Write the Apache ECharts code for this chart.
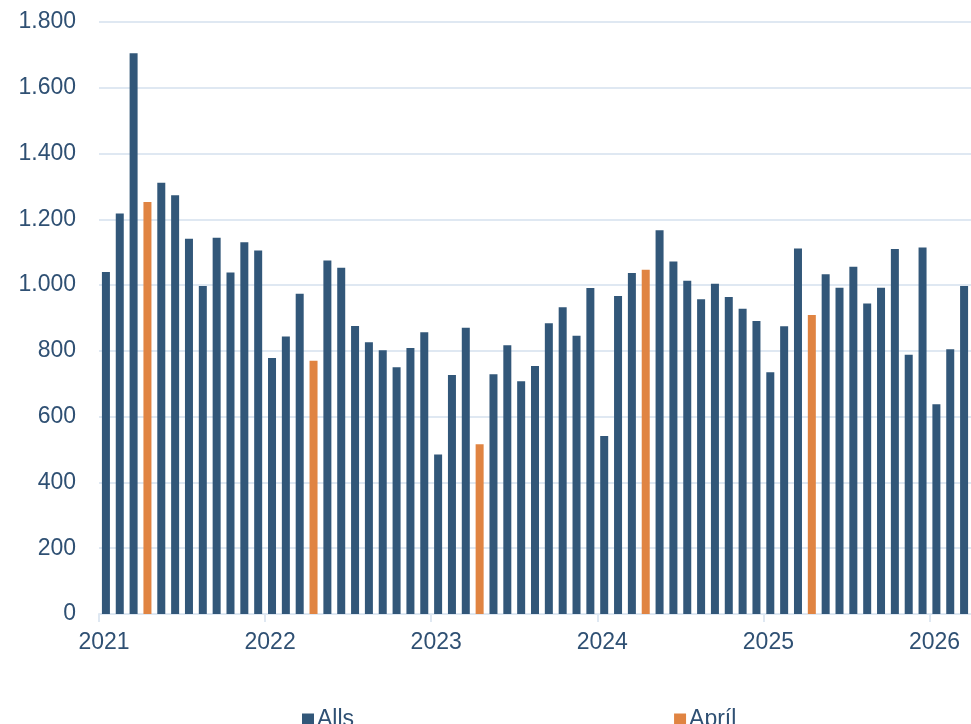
<!DOCTYPE html>
<html>
<head>
<meta charset="utf-8">
<script src="https://cdn.jsdelivr.net/npm/echarts@6/dist/echarts.min.js"></script>
<style>
  html, body { margin: 0; padding: 0; background: #ffffff; }
  #chart { width: 971px; height: 724px; }
</style>
</head>
<body>
<div id="chart"></div>
<script>
// monthly values, Jan 2021 - Mar 2026
var months = [];
var years = ['2021', '2022', '2023', '2024', '2025', '2026'];
var values = [
  1040, 1218, 1705, 1253, 1311, 1273, 1141, 997, 1144, 1038, 1130, 1105,
  778, 844, 974, 770, 1075, 1053, 876, 826, 802, 750, 809, 857,
  485, 727, 870, 516, 729, 817, 708, 754, 884, 933, 846, 991,
  541, 967, 1037, 1047, 1167, 1072, 1013, 957, 1004, 964, 928, 891,
  735, 875, 1111, 909, 1033, 992, 1056, 944, 992, 1110, 788, 1114,
  638, 805, 997
];
var yTicks = [0, 200, 400, 600, 800, 1000, 1200, 1400, 1600, 1800];

for (var i = 0; i < values.length; i++) {
  months.push(years[Math.floor(i / 12)] + '-' + (i % 12 + 1));
}

// april bars go in their own series so the legend gets both entries
var allsData = values.map(function (v, i) { return i % 12 === 3 ? '-' : v; });
var aprilData = values.map(function (v, i) { return i % 12 === 3 ? v : '-'; });

var textColor = '#2f5073';
var gridColor = '#dfe8f2';

var chart = echarts.init(document.getElementById('chart'));
chart.setOption({
  backgroundColor: '#ffffff',
  animation: false,
  textStyle: { fontFamily: 'Liberation Sans, Arial, sans-serif' },
  grid: { left: 99, right: -7, top: 22, bottom: 110 },
  legend: {
    left: 297,
    top: 703,
    itemGap: 320,
    itemWidth: 12,
    itemHeight: 12,
    icon: 'rect',
    selectedMode: false,
    textStyle: { fontSize: 23, color: textColor, padding: [0, 0, 0, -2] },
    data: ['Alls', 'Apríl']
  },
  xAxis: [
    {
      type: 'category',
      data: months,
      position: 'bottom',
      axisLine: { show: false },
      axisTick: { show: false },
      axisLabel: { show: false }
    },
    {
      type: 'value',
      min: 0,
      max: months.length,
      interval: 12,
      position: 'bottom',
      splitLine: { show: false },
      axisLine: { show: true, lineStyle: { color: gridColor, width: 2 } },
      axisTick: { show: true, length: 8, lineStyle: { color: gridColor, width: 2 } },
      axisLabel: {
        showMaxLabel: false,
        fontSize: 23,
        color: textColor,
        margin: 17,
        padding: [0, 0, 0, 10],
        formatter: function (v) { return years[v / 12] || ''; }
      }
    }
  ],
  yAxis: {
    type: 'value',
    min: yTicks[0],
    max: yTicks[yTicks.length - 1],
    interval: 200,
    axisLine: { show: false },
    axisTick: { show: false },
    splitLine: { lineStyle: { color: gridColor, width: 2 } },
    axisLabel: {
      fontSize: 23,
      color: textColor,
      margin: 23,
      formatter: function (v) {
        return String(v).replace(/\B(?=(\d{3})+(?!\d))/g, '.');
      }
    }
  },
  series: [
    {
      name: 'Alls',
      type: 'bar',
      xAxisIndex: 0,
      barWidth: 8,
      barGap: '-100%',
      itemStyle: { color: '#325779' },
      data: allsData
    },
    {
      name: 'Apríl',
      type: 'bar',
      xAxisIndex: 0,
      barWidth: 8,
      barGap: '-100%',
      itemStyle: { color: '#e08442' },
      data: aprilData
    }
  ]
});
</script>
</body>
</html>
